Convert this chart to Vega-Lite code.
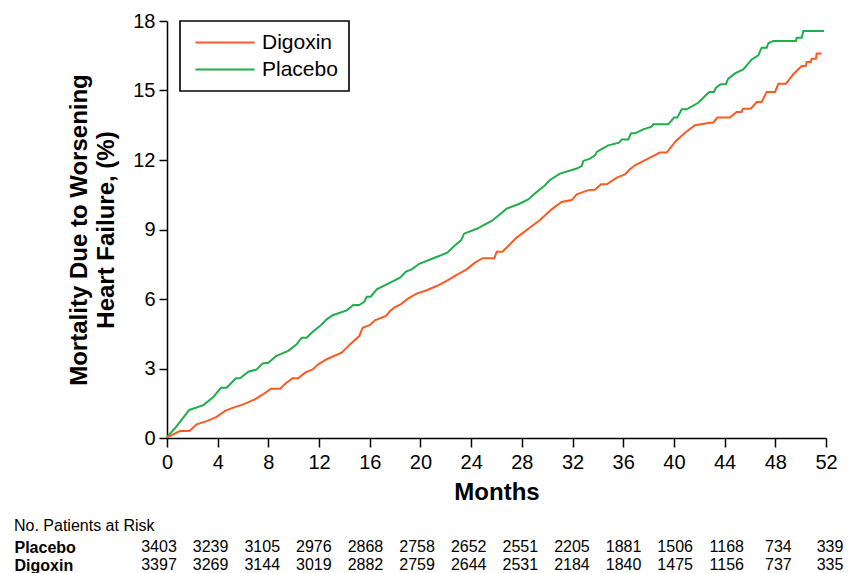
{
  "$schema": "https://vega.github.io/schema/vega-lite/v6.json",
  "padding": {"left": 14, "top": 11, "right": 5, "bottom": 0},
  "bounds": "flush",
  "spacing": 100,
  "config": {"font": "Liberation Sans", "view": {"stroke": null}},
  "resolve": {"scale": {"x": "independent", "y": "independent"}},
  "datasets": {
    "curves": [
      {"group": "Placebo", "month": 0, "pct": 0.05},
      {"group": "Placebo", "month": 0.63, "pct": 0.42},
      {"group": "Placebo", "month": 1.76, "pct": 1.21},
      {"group": "Placebo", "month": 2.87, "pct": 1.42},
      {"group": "Placebo", "month": 3.66, "pct": 1.77},
      {"group": "Placebo", "month": 4.26, "pct": 2.17},
      {"group": "Placebo", "month": 4.71, "pct": 2.17},
      {"group": "Placebo", "month": 5.44, "pct": 2.58},
      {"group": "Placebo", "month": 5.76, "pct": 2.58},
      {"group": "Placebo", "month": 6.42, "pct": 2.86},
      {"group": "Placebo", "month": 7.08, "pct": 2.96},
      {"group": "Placebo", "month": 7.55, "pct": 3.22},
      {"group": "Placebo", "month": 8.0, "pct": 3.25},
      {"group": "Placebo", "month": 8.6, "pct": 3.54},
      {"group": "Placebo", "month": 9.57, "pct": 3.76},
      {"group": "Placebo", "month": 10.23, "pct": 4.04},
      {"group": "Placebo", "month": 10.63, "pct": 4.33},
      {"group": "Placebo", "month": 11.02, "pct": 4.33},
      {"group": "Placebo", "month": 11.5, "pct": 4.59},
      {"group": "Placebo", "month": 12.07, "pct": 4.83},
      {"group": "Placebo", "month": 12.6, "pct": 5.12},
      {"group": "Placebo", "month": 13.12, "pct": 5.31},
      {"group": "Placebo", "month": 14.18, "pct": 5.51},
      {"group": "Placebo", "month": 14.7, "pct": 5.74},
      {"group": "Placebo", "month": 15.17, "pct": 5.74},
      {"group": "Placebo", "month": 15.57, "pct": 5.88},
      {"group": "Placebo", "month": 15.76, "pct": 6.1},
      {"group": "Placebo", "month": 16.07, "pct": 6.1},
      {"group": "Placebo", "month": 16.55, "pct": 6.42},
      {"group": "Placebo", "month": 17.46, "pct": 6.66},
      {"group": "Placebo", "month": 18.39, "pct": 6.92},
      {"group": "Placebo", "month": 18.86, "pct": 7.18},
      {"group": "Placebo", "month": 19.31, "pct": 7.28},
      {"group": "Placebo", "month": 19.91, "pct": 7.52},
      {"group": "Placebo", "month": 21.01, "pct": 7.76},
      {"group": "Placebo", "month": 22.12, "pct": 8.0},
      {"group": "Placebo", "month": 22.73, "pct": 8.32},
      {"group": "Placebo", "month": 23.2, "pct": 8.53},
      {"group": "Placebo", "month": 23.44, "pct": 8.82},
      {"group": "Placebo", "month": 24.44, "pct": 9.03},
      {"group": "Placebo", "month": 25.62, "pct": 9.37},
      {"group": "Placebo", "month": 26.28, "pct": 9.66},
      {"group": "Placebo", "month": 26.8, "pct": 9.9},
      {"group": "Placebo", "month": 27.72, "pct": 10.09},
      {"group": "Placebo", "month": 28.51, "pct": 10.3},
      {"group": "Placebo", "month": 29.17, "pct": 10.62},
      {"group": "Placebo", "month": 29.83, "pct": 10.91},
      {"group": "Placebo", "month": 30.22, "pct": 11.14},
      {"group": "Placebo", "month": 31.01, "pct": 11.41},
      {"group": "Placebo", "month": 32.33, "pct": 11.63},
      {"group": "Placebo", "month": 32.72, "pct": 11.74},
      {"group": "Placebo", "month": 32.85, "pct": 11.96},
      {"group": "Placebo", "month": 33.38, "pct": 12.06},
      {"group": "Placebo", "month": 33.77, "pct": 12.2},
      {"group": "Placebo", "month": 33.91, "pct": 12.35},
      {"group": "Placebo", "month": 34.25, "pct": 12.46},
      {"group": "Placebo", "month": 34.82, "pct": 12.63},
      {"group": "Placebo", "month": 35.67, "pct": 12.75},
      {"group": "Placebo", "month": 35.88, "pct": 12.89},
      {"group": "Placebo", "month": 36.4, "pct": 12.89},
      {"group": "Placebo", "month": 36.61, "pct": 13.15},
      {"group": "Placebo", "month": 36.93, "pct": 13.15},
      {"group": "Placebo", "month": 37.58, "pct": 13.32},
      {"group": "Placebo", "month": 38.24, "pct": 13.44},
      {"group": "Placebo", "month": 38.37, "pct": 13.54},
      {"group": "Placebo", "month": 39.56, "pct": 13.54},
      {"group": "Placebo", "month": 40.01, "pct": 13.83},
      {"group": "Placebo", "month": 40.27, "pct": 13.83},
      {"group": "Placebo", "month": 40.61, "pct": 14.19},
      {"group": "Placebo", "month": 41.0, "pct": 14.19},
      {"group": "Placebo", "month": 41.92, "pct": 14.47},
      {"group": "Placebo", "month": 42.32, "pct": 14.69},
      {"group": "Placebo", "month": 42.79, "pct": 14.94},
      {"group": "Placebo", "month": 43.16, "pct": 14.94},
      {"group": "Placebo", "month": 43.32, "pct": 15.12},
      {"group": "Placebo", "month": 43.69, "pct": 15.27},
      {"group": "Placebo", "month": 44.1, "pct": 15.27},
      {"group": "Placebo", "month": 44.29, "pct": 15.51},
      {"group": "Placebo", "month": 44.82, "pct": 15.74},
      {"group": "Placebo", "month": 45.48, "pct": 15.91},
      {"group": "Placebo", "month": 46.14, "pct": 16.34},
      {"group": "Placebo", "month": 46.66, "pct": 16.52},
      {"group": "Placebo", "month": 46.92, "pct": 16.85},
      {"group": "Placebo", "month": 47.32, "pct": 16.85},
      {"group": "Placebo", "month": 47.45, "pct": 17.04},
      {"group": "Placebo", "month": 47.84, "pct": 17.14},
      {"group": "Placebo", "month": 49.63, "pct": 17.14},
      {"group": "Placebo", "month": 49.69, "pct": 17.28},
      {"group": "Placebo", "month": 50.08, "pct": 17.28},
      {"group": "Placebo", "month": 50.21, "pct": 17.57},
      {"group": "Placebo", "month": 51.84, "pct": 17.57},
      {"group": "Digoxin", "month": 0, "pct": 0.03},
      {"group": "Digoxin", "month": 1.03, "pct": 0.3},
      {"group": "Digoxin", "month": 1.76, "pct": 0.3},
      {"group": "Digoxin", "month": 2.34, "pct": 0.59},
      {"group": "Digoxin", "month": 3.13, "pct": 0.73},
      {"group": "Digoxin", "month": 3.92, "pct": 0.91},
      {"group": "Digoxin", "month": 4.58, "pct": 1.17},
      {"group": "Digoxin", "month": 5.23, "pct": 1.31},
      {"group": "Digoxin", "month": 6.02, "pct": 1.45},
      {"group": "Digoxin", "month": 6.94, "pct": 1.67},
      {"group": "Digoxin", "month": 7.6, "pct": 1.89},
      {"group": "Digoxin", "month": 8.2, "pct": 2.13},
      {"group": "Digoxin", "month": 8.92, "pct": 2.13},
      {"group": "Digoxin", "month": 9.44, "pct": 2.39},
      {"group": "Digoxin", "month": 9.92, "pct": 2.58},
      {"group": "Digoxin", "month": 10.36, "pct": 2.58},
      {"group": "Digoxin", "month": 10.89, "pct": 2.82},
      {"group": "Digoxin", "month": 11.5, "pct": 2.96},
      {"group": "Digoxin", "month": 11.94, "pct": 3.18},
      {"group": "Digoxin", "month": 12.6, "pct": 3.4},
      {"group": "Digoxin", "month": 13.18, "pct": 3.54},
      {"group": "Digoxin", "month": 13.78, "pct": 3.68},
      {"group": "Digoxin", "month": 14.44, "pct": 4.04},
      {"group": "Digoxin", "month": 15.17, "pct": 4.4},
      {"group": "Digoxin", "month": 15.44, "pct": 4.76},
      {"group": "Digoxin", "month": 16.02, "pct": 4.88},
      {"group": "Digoxin", "month": 16.41, "pct": 5.08},
      {"group": "Digoxin", "month": 17.28, "pct": 5.27},
      {"group": "Digoxin", "month": 17.6, "pct": 5.48},
      {"group": "Digoxin", "month": 17.99, "pct": 5.65},
      {"group": "Digoxin", "month": 18.44, "pct": 5.77},
      {"group": "Digoxin", "month": 19.04, "pct": 6.03},
      {"group": "Digoxin", "month": 19.7, "pct": 6.23},
      {"group": "Digoxin", "month": 20.49, "pct": 6.38},
      {"group": "Digoxin", "month": 21.28, "pct": 6.56},
      {"group": "Digoxin", "month": 22.07, "pct": 6.78},
      {"group": "Digoxin", "month": 22.86, "pct": 7.04},
      {"group": "Digoxin", "month": 23.65, "pct": 7.28},
      {"group": "Digoxin", "month": 24.3, "pct": 7.57},
      {"group": "Digoxin", "month": 24.91, "pct": 7.76},
      {"group": "Digoxin", "month": 25.83, "pct": 7.76},
      {"group": "Digoxin", "month": 26.02, "pct": 8.04},
      {"group": "Digoxin", "month": 26.46, "pct": 8.04},
      {"group": "Digoxin", "month": 26.93, "pct": 8.29},
      {"group": "Digoxin", "month": 27.59, "pct": 8.65},
      {"group": "Digoxin", "month": 28.51, "pct": 9.03},
      {"group": "Digoxin", "month": 29.43, "pct": 9.41},
      {"group": "Digoxin", "month": 30.35, "pct": 9.87},
      {"group": "Digoxin", "month": 31.14, "pct": 10.19},
      {"group": "Digoxin", "month": 31.93, "pct": 10.27},
      {"group": "Digoxin", "month": 32.33, "pct": 10.52},
      {"group": "Digoxin", "month": 33.25, "pct": 10.7},
      {"group": "Digoxin", "month": 33.77, "pct": 10.72},
      {"group": "Digoxin", "month": 34.25, "pct": 10.95},
      {"group": "Digoxin", "month": 34.7, "pct": 10.95},
      {"group": "Digoxin", "month": 35.49, "pct": 11.24},
      {"group": "Digoxin", "month": 36.14, "pct": 11.38},
      {"group": "Digoxin", "month": 36.53, "pct": 11.6},
      {"group": "Digoxin", "month": 36.93, "pct": 11.77},
      {"group": "Digoxin", "month": 38.11, "pct": 12.1},
      {"group": "Digoxin", "month": 38.9, "pct": 12.32},
      {"group": "Digoxin", "month": 39.43, "pct": 12.32},
      {"group": "Digoxin", "month": 40.09, "pct": 12.78},
      {"group": "Digoxin", "month": 40.87, "pct": 13.18},
      {"group": "Digoxin", "month": 41.66, "pct": 13.5},
      {"group": "Digoxin", "month": 42.85, "pct": 13.61},
      {"group": "Digoxin", "month": 43.1, "pct": 13.61},
      {"group": "Digoxin", "month": 43.42, "pct": 13.83},
      {"group": "Digoxin", "month": 44.42, "pct": 13.83},
      {"group": "Digoxin", "month": 44.95, "pct": 14.07},
      {"group": "Digoxin", "month": 45.35, "pct": 14.07},
      {"group": "Digoxin", "month": 45.43, "pct": 14.21},
      {"group": "Digoxin", "month": 46.06, "pct": 14.21},
      {"group": "Digoxin", "month": 46.53, "pct": 14.5},
      {"group": "Digoxin", "month": 46.92, "pct": 14.5},
      {"group": "Digoxin", "month": 47.32, "pct": 14.94},
      {"group": "Digoxin", "month": 47.98, "pct": 14.94},
      {"group": "Digoxin", "month": 48.24, "pct": 15.29},
      {"group": "Digoxin", "month": 48.84, "pct": 15.29},
      {"group": "Digoxin", "month": 49.42, "pct": 15.7},
      {"group": "Digoxin", "month": 50.08, "pct": 16.06},
      {"group": "Digoxin", "month": 50.4, "pct": 16.06},
      {"group": "Digoxin", "month": 50.48, "pct": 16.23},
      {"group": "Digoxin", "month": 50.8, "pct": 16.23},
      {"group": "Digoxin", "month": 50.87, "pct": 16.37},
      {"group": "Digoxin", "month": 51.2, "pct": 16.37},
      {"group": "Digoxin", "month": 51.27, "pct": 16.6},
      {"group": "Digoxin", "month": 51.66, "pct": 16.6}
    ],
    "risk": [
      {"group": "Placebo", "month": 0, "n": 3403},
      {"group": "Placebo", "month": 4, "n": 3239},
      {"group": "Placebo", "month": 8, "n": 3105},
      {"group": "Placebo", "month": 12, "n": 2976},
      {"group": "Placebo", "month": 16, "n": 2868},
      {"group": "Placebo", "month": 20, "n": 2758},
      {"group": "Placebo", "month": 24, "n": 2652},
      {"group": "Placebo", "month": 28, "n": 2551},
      {"group": "Placebo", "month": 32, "n": 2205},
      {"group": "Placebo", "month": 36, "n": 1881},
      {"group": "Placebo", "month": 40, "n": 1506},
      {"group": "Placebo", "month": 44, "n": 1168},
      {"group": "Placebo", "month": 48, "n": 734},
      {"group": "Placebo", "month": 52, "n": 339},
      {"group": "Digoxin", "month": 0, "n": 3397},
      {"group": "Digoxin", "month": 4, "n": 3269},
      {"group": "Digoxin", "month": 8, "n": 3144},
      {"group": "Digoxin", "month": 12, "n": 3019},
      {"group": "Digoxin", "month": 16, "n": 2882},
      {"group": "Digoxin", "month": 20, "n": 2759},
      {"group": "Digoxin", "month": 24, "n": 2644},
      {"group": "Digoxin", "month": 28, "n": 2531},
      {"group": "Digoxin", "month": 32, "n": 2184},
      {"group": "Digoxin", "month": 36, "n": 1840},
      {"group": "Digoxin", "month": 40, "n": 1475},
      {"group": "Digoxin", "month": 44, "n": 1156},
      {"group": "Digoxin", "month": 48, "n": 737},
      {"group": "Digoxin", "month": 52, "n": 335}
    ]
  },
  "vconcat": [
    {
      "width": 659,
      "height": 417,
      "layer": [
        {
          "data": {"name": "curves"},
          "mark": {"type": "line", "strokeWidth": 2},
          "encoding": {
            "x": {
              "field": "month", "type": "quantitative",
              "scale": {"domain": [0, 52], "nice": false, "zero": false},
              "axis": {
                "values": [0, 4, 8, 12, 16, 20, 24, 28, 32, 36, 40, 44, 48, 52],
                "title": "Months", "titleFontSize": 24, "titleFontWeight": "bold", "titleColor": "black", "titlePadding": 8,
                "labelFontSize": 20, "labelColor": "black", "labelPadding": 5, "labelFlush": false,
                "tickSize": 9, "tickColor": "black", "tickWidth": 1.5,
                "domainColor": "black", "domainWidth": 1.5, "grid": false
              }
            },
            "y": {
              "field": "pct", "type": "quantitative",
              "scale": {"domain": [0, 18], "nice": false},
              "axis": {
                "values": [0, 3, 6, 9, 12, 15, 18],
                "title": ["Mortality Due to Worsening", "Heart Failure, (%)"],
                "titleFontSize": 24, "titleFontWeight": "bold", "titleColor": "black", "titlePadding": 14, "titleLineHeight": 27,
                "labelFontSize": 20, "labelColor": "black", "labelPadding": 4, "labelFlush": false,
                "tickSize": 8, "tickColor": "black", "tickWidth": 1.5,
                "domainColor": "black", "domainWidth": 1.5, "grid": false
              }
            },
            "color": {
              "field": "group", "type": "nominal",
              "scale": {"domain": ["Digoxin", "Placebo"], "range": ["#fa5a23", "#1fae4b"]},
              "legend": {
                "title": null, "orient": "none", "legendX": 13, "legendY": 0,
                "symbolType": "M-4,0H4", "symbolSize": 218, "symbolStrokeWidth": 2,
                "labelFontSize": 21, "labelColor": "black", "labelOffset": 26.5,
                "padding": 11, "symbolOffset": 23.5, "rowPadding": 5,
                "strokeColor": "black", "fillColor": "white",
                "encode": {"legend": {"update": {"strokeWidth": {"value": 1.6}}}}
              }
            }
          }
        },
        {
          "mark": {"type": "text", "fontSize": 17, "color": "black", "align": "center", "baseline": "middle"},
          "encoding": {
            "x": {"datum": 38.8, "type": "quantitative"},
            "y": {"datum": 8.93, "type": "quantitative"},
            "text": {"value": "p = 0.06"}
          }
        }
      ]
    },
    {
      "width": 659,
      "height": 36,
      "data": {"name": "risk"},
      "title": {"text": "No. Patients at Risk", "anchor": "start", "frame": "group", "dx": -153, "fontSize": 16, "fontWeight": "normal", "color": "black", "offset": 4},
      "mark": {"type": "text", "fontSize": 16, "color": "black", "align": "center", "baseline": "middle"},
      "encoding": {
        "x": {"field": "month", "type": "quantitative", "scale": {"domain": [0, 52], "range": [-8, 663]}, "axis": null},
        "y": {
          "field": "group", "type": "nominal", "sort": ["Placebo", "Digoxin"],
          "scale": {"paddingInner": 0, "paddingOuter": 0},
          "axis": {"title": null, "domain": false, "ticks": false, "labelAlign": "left", "labelPadding": 153, "labelFontSize": 16, "labelFontWeight": "bold", "labelColor": "black"}
        },
        "text": {"field": "n", "type": "quantitative", "format": "d"}
      }
    }
  ]
}
